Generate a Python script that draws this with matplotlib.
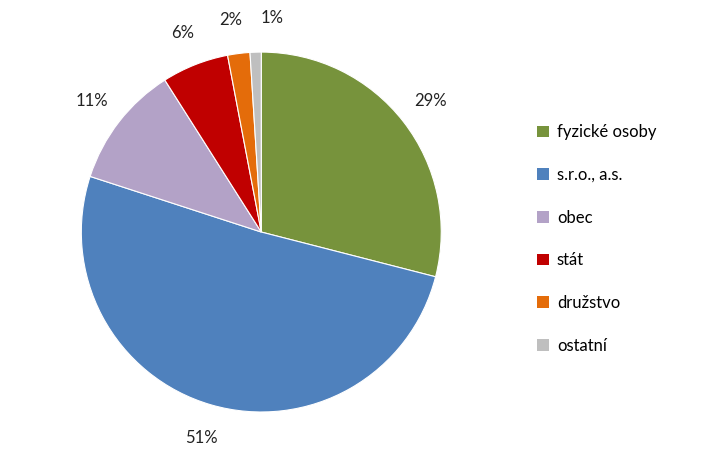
import matplotlib.pyplot as plt
from matplotlib.patches import Patch

labels = ["fyzické osoby", "s.r.o., a.s.", "obec", "stát", "družstvo", "ostatní"]
values = [29, 51, 11, 6, 2, 1]
colors = ["#77933C", "#4F81BD", "#B3A2C7", "#C00000", "#E46C0A", "#BFBFBF"]

plt.rcParams["font.family"] = "Lato"
fig = plt.figure(figsize=(7.1, 4.65), dpi=100)
ax = fig.add_axes([0.368 - 0.2535, 0.501 - 0.387, 0.507, 0.774])
wedges, texts, autotexts = ax.pie(
    values, colors=colors, startangle=90, counterclock=False,
    autopct="%d%%", pctdistance=1.19,
    wedgeprops=dict(edgecolor="white", linewidth=0.8),
    textprops=dict(fontsize=12, color="#222222"))
ax.set_xlim(-1, 1)
ax.set_ylim(-1, 1)
ax.set_aspect("equal")
for t in autotexts:
    t.set_clip_on(False)
# nudge the smallest label to the right, as in the reference
x, y = autotexts[-1].get_position()
autotexts[-1].set_position((x + 0.1, y))
x, y = autotexts[-2].get_position()
autotexts[-2].set_position((x - 0.02, y))

handles = [Patch(facecolor=c, label=l) for c, l in zip(colors, labels)]
fig.legend(handles=handles, loc="upper left", bbox_to_anchor=(0.735, 0.765),
           frameon=False, fontsize=12, labelspacing=1.6,
           handlelength=0.7, handleheight=0.7, handletextpad=0.5)

fig.savefig("out.png", dpi=100)
